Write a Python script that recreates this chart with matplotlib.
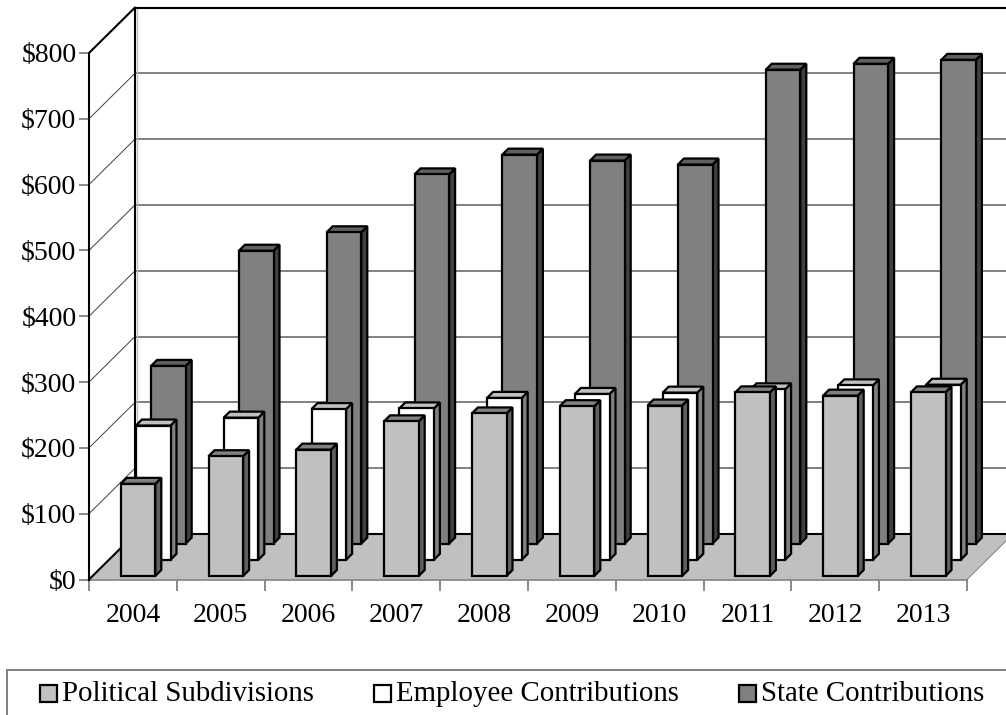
import numpy as np
import matplotlib
matplotlib.use('Agg')
import matplotlib.pyplot as plt
from matplotlib.legend_handler import HandlerPatch
from matplotlib.patches import Patch, Rectangle

years = ['2004', '2005', '2006', '2007', '2008', '2009', '2010', '2011', '2012', '2013']
political = [140, 182, 192, 235, 247, 258, 259, 279, 274, 279]
employee = [204, 216, 229, 230, 246, 252, 254, 259, 265, 266]
state = [270, 445, 473, 561, 591, 582, 576, 720, 729, 735]
names = ['Political Subdivisions', 'Employee Contributions', 'State Contributions']
y_ticks = [0, 100, 200, 300, 400, 500, 600, 700, 800]

W, H = 1006, 715
plt.rcParams['font.family'] = ['Liberation Serif', 'DejaVu Serif']
plt.rcParams['font.size'] = 20

fig = plt.figure(figsize=(W / 100, H / 100), dpi=100)
ax = fig.add_axes([89 / W, 1 - 579.5 / H, 878 / W, 526.5 / H])
ax.set_xlim(0, 10)
ax.set_ylim(0, 800)
ax.patch.set_visible(False)
for s in ax.spines.values():
    s.set_visible(False)

# pixel sizes of the fake 3d, turned into data units
px_x = 10 / 878
px_y = 800 / 526.5
wall_dx = 46 * px_x
wall_dy = 45.5 * px_y
slot_dx = 15.2 * px_x
slot_dy = 16.2 * px_y
bar_dx = 6 * px_x
bar_dy = 6 * px_y
bar_w = 34.6 * px_x
start_x = 31.7 * px_x
start_y = 3.5 * px_y

# floor and walls
ax.fill([0, 10, 10 + wall_dx, wall_dx], [0, 0, wall_dy, wall_dy], color='#C0C0C0', lw=0, zorder=1, clip_on=False)
ax.plot([10, 10 + wall_dx], [0, wall_dy], color='#808080', lw=0.7, zorder=1.5, clip_on=False)
for v in y_ticks[1:-1]:
    ax.plot([wall_dx, 10 + wall_dx], [v + wall_dy, v + wall_dy], color='#808080', lw=1.4, zorder=2, clip_on=False)
    ax.plot([0, wall_dx], [v, v + wall_dy], color='#404040', lw=0.7, zorder=2, clip_on=False)
ax.plot([wall_dx + 2 * px_x] * 2, [wall_dy, 800 + wall_dy], color='#C0C0C0', lw=1, zorder=2, clip_on=False)
ax.plot([0, 10], [0, 0], color='#808080', lw=1.2, zorder=2, clip_on=False)
ax.plot([wall_dx, 10 + wall_dx], [wall_dy, wall_dy], color='black', lw=1.5, zorder=2, clip_on=False)
ax.plot([wall_dx, 10 + wall_dx], [800 + wall_dy, 800 + wall_dy], color='black', lw=1.5, zorder=2, clip_on=False)
ax.plot([0, 0, wall_dx, wall_dx, 0], [0, 800, 800 + wall_dy, wall_dy, 0], color='black', lw=1.5, zorder=3, clip_on=False)

# bars, back series first
series = [political, employee, state]
front_col = ['#C0C0C0', '#FFFFFF', '#808080']
top_col = ['#808080', '#C0C0C0', '#606060']
side_col = ['#606060', '#808080', '#404040']
for k in [2, 1, 0]:
    z = 10 - k * 2
    base = start_y + k * slot_dy
    for i, val in enumerate(series[k]):
        x0 = i + start_x + k * slot_dx
        x1 = x0 + bar_w
        top = base + val
        ax.fill([x1, x1 + bar_dx, x1 + bar_dx, x1], [base, base + bar_dy, top + bar_dy, top],
                facecolor=side_col[k], edgecolor='black', lw=1.6, zorder=z, joinstyle='miter', clip_on=False)
        ax.fill([x0, x1, x1 + bar_dx, x0 + bar_dx], [top, top, top + bar_dy, top + bar_dy],
                facecolor=top_col[k], edgecolor='black', lw=1.6, zorder=z, joinstyle='miter', clip_on=False)
    ax.bar(np.arange(10) + start_x + k * slot_dx, series[k], width=bar_w, bottom=base, align='edge',
           color=front_col[k], edgecolor='black', linewidth=1.6, zorder=z + 0.5, clip_on=False)

# ticks
ax.set_yticks(y_ticks)
ax.set_yticklabels(['$%d' % v for v in y_ticks])
ax.set_xticks(np.arange(11))
ax.set_xticklabels([])
ax.set_xticks(np.arange(10) + 0.5, labels=years, minor=True)
ax.tick_params(axis='y', length=7, width=1.3, color='#808080', pad=2)
ax.tick_params(axis='x', which='major', length=8, width=1.3, color='#808080')
ax.tick_params(axis='x', which='minor', length=0, pad=17)


def low_square(legend, orig_handle, xdescent, ydescent, width, height, fontsize):
    # legend swatch sits on the text baseline, a bit lower than the default
    return Rectangle((-xdescent, -ydescent - 1.5), width, width)


# legend box runs off the picture on the right and at the bottom
fig.add_artist(Rectangle((7 / W, 1 - 760 / H), 1040 / W, 90 / H, transform=fig.transFigure,
                         facecolor='white', edgecolor='#808080', lw=1.4))
handles = [Patch(facecolor=c, edgecolor='black', linewidth=1.6) for c in front_col]
fig.legend(handles, names, ncol=3, loc='center left', bbox_to_anchor=(40 / W, 1 - 694 / H), borderaxespad=0,
           frameon=False, fontsize=20.8, borderpad=0,
           handlelength=0.59, handleheight=0.6, handletextpad=0.17, columnspacing=2.08,
           handler_map={Patch: HandlerPatch(patch_func=low_square)})

fig.savefig('out.png', dpi=100)
